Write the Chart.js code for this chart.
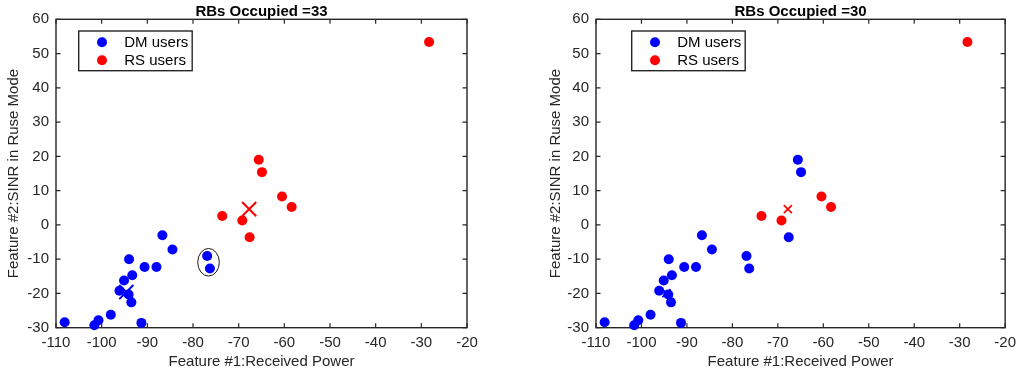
<!DOCTYPE html>
<html><head><meta charset="utf-8">
<script src="https://cdn.jsdelivr.net/npm/chart.js@4.4.0/dist/chart.umd.min.js"></script>
<style>
html,body{margin:0;padding:0;background:#fff;}
#wrap{position:relative;width:1022px;height:376px;overflow:hidden;}
canvas{position:absolute;top:0;}
#c1{left:0}
#c2{left:511px}
</style></head><body>
<div id="wrap"><canvas id="c1" width="511" height="376"></canvas><canvas id="c2" width="511" height="376"></canvas></div>
<script>
// ---- axis settings ----
const xMin = -110, xMax = -20, xStep = 10;
const yMin = -30, yMax = 60, yStep = 10;
const xTitle = 'Feature #1:Received Power';
const yTitle = 'Feature #2:SINR in Ruse Mode';
const legendLabels = ['DM users', 'RS users'];
const titles = ['RBs Occupied =33', 'RBs Occupied =30'];

// ---- left chart (RBs = 33) ----
const dmLeftX = [-108.1, -101.6, -100.7, -98.0, -96.1, -95.1, -94.0, -93.3, -94.1, -93.5, -91.3, -90.6, -88.0, -86.7, -84.5, -76.9, -76.3];
const dmLeftY = [-28.4, -29.3, -27.8, -26.2, -19.2, -16.2, -10.0, -14.7, -20.3, -22.6, -28.6, -12.3, -12.3, -3.0, -7.2, -9.1, -12.7];
const rsLeftX = [-28.3, -65.6, -64.9, -60.5, -58.4, -73.6, -69.2, -67.6];
const rsLeftY = [53.4, 19.0, 15.4, 8.3, 5.2, 2.6, 1.3, -3.6];
const dmCenterLeft = [-94.6, -19.6];
const rsCenterLeft = [-67.7, 4.6];
const circledCenter = [-76.6, -10.9];

// ---- right chart (RBs = 30) ----
const dmRightX = [-108.1, -101.6, -100.7, -98.0, -96.1, -95.1, -94.0, -93.3, -94.1, -93.5, -91.3, -90.6, -88.0, -86.7, -84.5, -76.9, -76.3, -65.6, -64.9, -67.6];
const dmRightY = [-28.4, -29.3, -27.8, -26.2, -19.2, -16.2, -10.0, -14.7, -20.3, -22.6, -28.6, -12.3, -12.3, -3.0, -7.2, -9.1, -12.7, 19.0, 15.4, -3.6];
const rsRightX = [-28.3, -60.4, -58.3, -73.6, -69.2];
const rsRightY = [53.4, 8.3, 5.2, 2.6, 1.3];
const dmCenterRight = [-94.5, -19.9];
const rsCenterRight = [-67.8, 4.6];

const BLUE = '#0000FF', RED = '#FF0000', AX = '#262626';
const FONT = '"Liberation Sans", Arial, Helvetica, sans-serif';

function pts(xs, ys){ return xs.map((x,i)=>({x:x, y:ys[i]})); }

const deco = {
  id: 'deco',
  beforeDatasetsDraw(chart){
    const {ctx, chartArea:a, scales:{x, y}} = chart;
    ctx.save();
    ctx.strokeStyle = AX; ctx.lineWidth = 1.4;
    ctx.strokeRect(a.left, a.top, a.right - a.left, a.bottom - a.top);
    const tl = 4.5;
    ctx.beginPath();
    x.ticks.forEach(t => { const p = x.getPixelForValue(t.value);
      ctx.moveTo(p, a.bottom); ctx.lineTo(p, a.bottom - tl);
      ctx.moveTo(p, a.top); ctx.lineTo(p, a.top + tl); });
    y.ticks.forEach(t => { const p = y.getPixelForValue(t.value);
      ctx.moveTo(a.left, p); ctx.lineTo(a.left + tl, p);
      ctx.moveTo(a.right, p); ctx.lineTo(a.right - tl, p); });
    ctx.lineWidth = 1.2;
    ctx.stroke();
    ctx.restore();
  },
  afterDatasetsDraw(chart, args, o){
    const {ctx, chartArea:a, scales:{x, y}} = chart;
    ctx.save();
    if (o.ellipse){
      ctx.beginPath();
      ctx.ellipse(x.getPixelForValue(o.ellipse[0]), y.getPixelForValue(o.ellipse[1]), 10.8, 13.8, 0, 0, Math.PI*2);
      ctx.strokeStyle = '#000'; ctx.lineWidth = 0.9; ctx.stroke();
    }
    // legend
    const bx = a.left + o.legendLeft, by = 31, bw = 113.5, bh = 39.7;
    ctx.fillStyle = '#fff'; ctx.fillRect(bx, by, bw, bh);
    ctx.strokeStyle = AX; ctx.lineWidth = 1.4; ctx.strokeRect(bx, by, bw, bh);
    const cols = [BLUE, RED], rows = [42.3, 60.3];
    ctx.font = '15px ' + FONT; ctx.textBaseline = 'middle'; ctx.textAlign = 'left';
    legendLabels.forEach((lab, i) => {
      ctx.beginPath(); ctx.arc(bx + 23.3, rows[i], 5, 0, Math.PI*2);
      ctx.fillStyle = cols[i]; ctx.fill();
      ctx.fillStyle = '#000'; ctx.fillText(lab, bx + 45.5, rows[i] + 0.5);
    });
    ctx.restore();
  },
  afterDraw(chart, args, o){
    const {ctx, chartArea:a} = chart;
    ctx.save();
    ctx.font = 'bold 15px ' + FONT; ctx.fillStyle = '#000';
    ctx.textAlign = 'center'; ctx.textBaseline = 'alphabetic';
    ctx.fillText(o.title, (a.left + a.right)/2, 15.7);
    ctx.restore();
  }
};

function makeChart(id, cfg){
  const dot = (data, color) => ({data, backgroundColor: color, borderColor: color, borderWidth: 0, pointRadius: 5, pointHoverRadius: 5, clip: false});
  const cross = (c, color, r, w) => ({data: [{x: c[0], y: c[1]}], pointStyle: 'crossRot', borderColor: color, backgroundColor: color, pointRadius: r, pointHoverRadius: r, borderWidth: w, clip: false});
  return new Chart(document.getElementById(id), {
    type: 'scatter',
    data: { datasets: [
      dot(pts(cfg.dmX, cfg.dmY), BLUE),
      dot(pts(cfg.rsX, cfg.rsY), RED),
      cross(cfg.dmC, BLUE, cfg.cr, cfg.cw),
      cross(cfg.rsC, RED, cfg.cr, cfg.cw)
    ]},
    options: {
      responsive: false, animation: false, events: [],
      layout: { padding: { top: 19.3, right: cfg.padRight, left: 0, bottom: 0 } },
      plugins: { legend: {display: false}, tooltip: {enabled: false}, title: {display: false},
        deco: { title: cfg.title, legendLeft: cfg.legendLeft, ellipse: cfg.ellipse } },
      scales: {
        x: { type: 'linear', min: xMin, max: xMax,
          ticks: { stepSize: xStep, color: AX, font: {family: FONT, size: 15}, padding: 6, maxRotation: 0 },
          grid: { display: false, drawTicks: false }, border: { display: false },
          title: { display: true, text: xTitle, color: AX, font: {family: FONT, size: 15}, padding: {top: 0, bottom: 5.5} },
          afterFit(s){ s.height = 48.3; } },
        y: { type: 'linear', min: yMin, max: yMax,
          ticks: { stepSize: yStep, color: AX, font: {family: FONT, size: 15}, padding: 7 },
          grid: { display: false, drawTicks: false }, border: { display: false },
          title: { display: true, text: yTitle, color: AX, font: {family: FONT, size: 15}, padding: {top: cfg.yTitlePad, bottom: 0} },
          afterFit(s){ s.width = cfg.yWidth; } }
      }
    },
    plugins: [deco]
  });
}

makeChart('c1', { dmX: dmLeftX, dmY: dmLeftY, rsX: rsLeftX, rsY: rsLeftY, dmC: dmCenterLeft, rsC: rsCenterLeft,
  cr: 10, cw: 2, title: titles[0], legendLeft: 22.7, ellipse: circledCenter, padRight: 44, yWidth: 56, yTitlePad: 4.5 });
makeChart('c2', { dmX: dmRightX, dmY: dmRightY, rsX: rsRightX, rsY: rsRightY, dmC: dmCenterRight, rsC: rsCenterRight,
  cr: 5.7, cw: 1.6, title: titles[1], legendLeft: 35.7, ellipse: null, padRight: 15.3, yWidth: 85, yTitlePad: 36 });
</script>
</body></html>
